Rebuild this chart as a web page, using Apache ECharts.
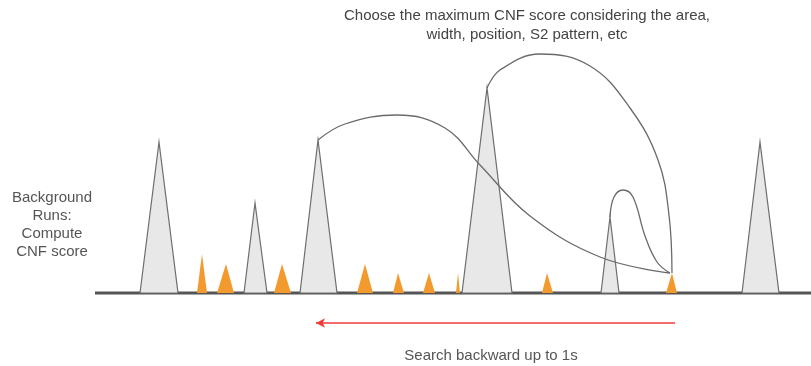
<!DOCTYPE html>
<html lang="en">
<head>
	<meta charset="UTF-8">
	<title>CNF score search</title>
	<style>html,body{margin:0;padding:0;background:#fff;}</style>
</head>
<body>
<div id="chart" style="width:811px;height:366px;"></div>
<script src="https://cdn.jsdelivr.net/npm/echarts@6/dist/echarts.min.js"></script>
<script>
	var myChart = echarts.init(document.getElementById('chart'));

	// baseline of the signal
	var baseY = 293;
	var baseLine = [[95, 293], [811, 293]];

	// gray peaks: [left, apexX, right, apexY]
	var grayPeaks = [
		[140, 159, 178, 142],
		[244, 255, 267, 203],
		[300, 318, 337, 140],
		[462, 487, 512, 88],
		[601, 610, 619, 217],
		[742, 760, 779, 142]
	];

	// orange peaks: [left, apexX, right, apexY]
	var orangePeaks = [
		[197, 202, 207, 254],
		[217, 226, 234, 264],
		[274, 282, 291, 264],
		[357, 365, 373, 264],
		[393, 398, 404, 273],
		[423, 429, 435, 273],
		[456, 458, 460, 273],
		[542, 547, 553, 273],
		[666, 672, 677, 273]
	];

	// connecting curves
	var curveA = [[318, 140], [345, 124], [397, 115], [445, 128], [480, 165], [530, 216], [600, 257], [670, 273]];
	var curveB = [[487, 88], [500, 70], [540, 54], [590, 66], [630, 108], [658, 160], [669, 215], [672, 273]];
	var curveC = [[610, 217], [614, 197], [623, 190], [633, 197], [645, 236], [657, 262], [670, 273]];

	// search arrow
	var arrowFrom = [675, 323];
	var arrowTo = [316, 323];

	function triangle(fill, stroke) {
		return function (params, api) {
			var l = api.coord([api.value(0), baseY]);
			var a = api.coord([api.value(1), api.value(3)]);
			var r = api.coord([api.value(2), baseY]);
			return {
				type: 'polygon',
				shape: {points: [l, a, r]},
				style: {fill: fill, stroke: stroke, lineWidth: stroke ? 1.2 : 0}
			};
		};
	}

	function curve(data) {
		return {
			type: 'line',
			data: data,
			smooth: 0.4,
			symbol: 'none',
			silent: true,
			z: 5,
			lineStyle: {color: '#6a6a6a', width: 1.3}
		};
	}

	var font = 'Arial, "Liberation Sans", sans-serif';

	var option = {
		animation: false,
		grid: {left: 0, right: 0, top: 0, bottom: 0},
		xAxis: {type: 'value', min: 0, max: 811, show: false},
		yAxis: {type: 'value', min: 0, max: 366, inverse: true, show: false},
		graphic: [
			{
				type: 'text', z: 10,
				style: {
					text: 'Choose the maximum CNF score considering the area,\nwidth, position, S2 pattern, etc',
					font: '15px ' + font, fill: '#444', textAlign: 'center', lineHeight: 19
				},
				x: 527, y: 6
			},
			{
				type: 'text', z: 10,
				style: {
					text: 'Background\nRuns:\nCompute\nCNF score',
					font: '15px ' + font, fill: '#555', textAlign: 'center', lineHeight: 18
				},
				x: 52, y: 189
			},
			{
				type: 'text', z: 10,
				style: {
					text: 'Search backward up to 1s',
					font: '15px ' + font, fill: '#555', textAlign: 'center'
				},
				x: 491, y: 348
			}
		],
		series: [
			{
				type: 'line',
				data: baseLine,
				symbol: 'none',
				silent: true,
				z: 1,
				lineStyle: {color: '#555', width: 3}
			},
			{
				type: 'custom',
				renderItem: triangle('#e8e8e8', '#6e6e6e'),
				data: grayPeaks,
				z: 3
			},
			{
				type: 'custom',
				renderItem: triangle('#f39a2e', null),
				data: orangePeaks,
				z: 4
			},
			curve(curveA),
			curve(curveB),
			curve(curveC),
			{
				type: 'line',
				data: [],
				markLine: {
					silent: true,
					symbol: ['none', 'arrow'],
					symbolSize: [7, 9],
					label: {show: false},
					lineStyle: {color: '#f03a3a', width: 1.5, type: 'solid'},
					data: [[{coord: arrowFrom}, {coord: arrowTo}]]
				}
			}
		]
	};

	myChart.setOption(option);
</script>
</body>
</html>
